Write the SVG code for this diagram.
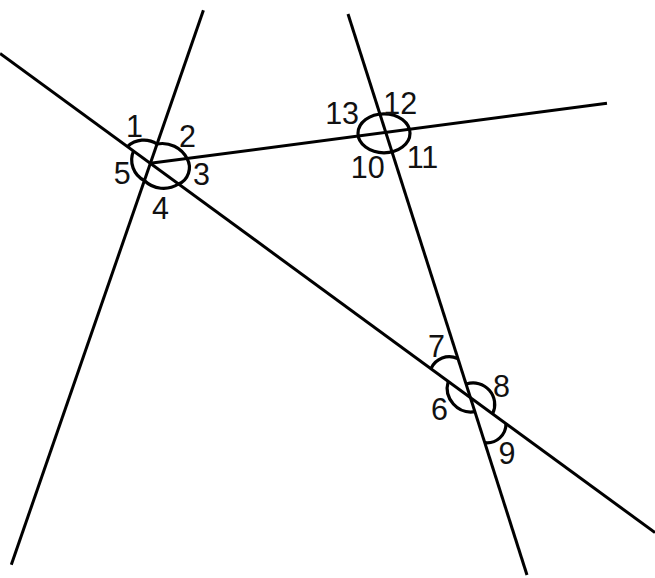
<svg xmlns="http://www.w3.org/2000/svg" width="655" height="578" viewBox="0 0 655 578">
<style>
.ln{stroke:#000;stroke-width:3;fill:none;stroke-linecap:butt}
.arc{stroke:#000;stroke-width:3.2;fill:none}
.lb{font-family:"Liberation Sans",Arial,sans-serif;font-size:30.5px;fill:#111;text-anchor:middle}
</style>
<rect width="655" height="578" fill="#fff"/>
<g id="lines">
<line class="ln" x1="0" y1="53.4" x2="655" y2="532.6"/>
<line class="ln" x1="203.4" y1="10.3" x2="11.3" y2="564.7"/>
<line class="ln" x1="348" y1="14" x2="527" y2="575"/>
<line class="ln" x1="150.3" y1="163.3" x2="607" y2="103.2"/>
</g>
<g id="vertex1">
<path class="arc" d="M127.5,146.6 A24,24 0 0 1 157,144"/>
<path class="arc" d="M157,144 A28,28 0 0 1 187,158.5"/>
<path class="arc" d="M187,158.5 A18,18 0 0 1 178.5,184"/>
<path class="arc" d="M178.5,184 A27.6,27.6 0 0 1 144.3,180.5"/>
<path class="arc" d="M144.3,180.5 A23,23 0 0 1 133.5,151"/>
<text class="lb" x="134.5" y="137.3">1</text>
<text class="lb" x="187.5" y="146.7">2</text>
<text class="lb" x="201.5" y="185">3</text>
<text class="lb" x="160.4" y="219.3">4</text>
<text class="lb" x="122.2" y="184.3">5</text>
</g>
<g id="vertex2">
<ellipse class="arc" cx="384" cy="133.3" rx="26" ry="19.5"/>
<text class="lb" x="367.8" y="178">10</text>
<text class="lb" x="422.5" y="167.7">11</text>
<text class="lb" x="400.2" y="114.3">12</text>
<text class="lb" x="342.1" y="124.2">13</text>
</g>
<g id="vertex3">
<path class="arc" d="M448.2,381.4 A24,24 0 0 0 475.2,411.7"/>
<path class="arc" d="M431,368.6 A20,20 0 0 1 457.5,358.5"/>
<path class="arc" d="M466.4,384.1 A21.5,21.5 0 0 1 492.6,413.8"/>
<path class="arc" d="M484.9,442.7 A19,19 0 0 0 506,423.4"/>
<text class="lb" x="439.4" y="419.5">6</text>
<text class="lb" x="436.5" y="356.8">7</text>
<text class="lb" x="501.6" y="397">8</text>
<text class="lb" x="507.1" y="463.7">9</text>
</g>
</svg>
